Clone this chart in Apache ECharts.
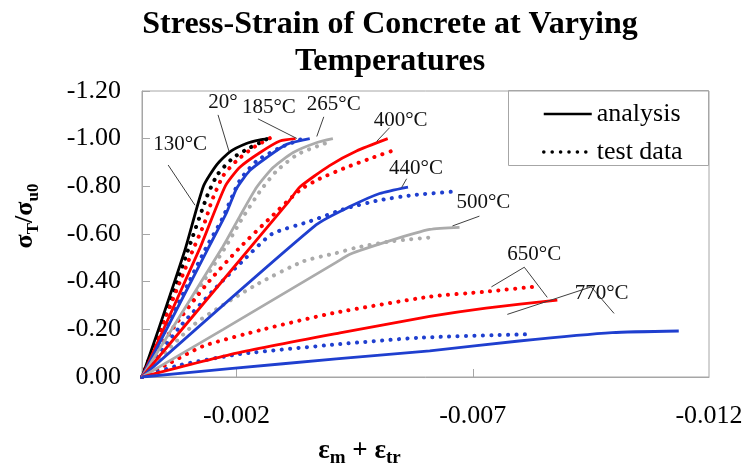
<!DOCTYPE html>
<html>
<head>
<meta charset="utf-8">
<script src="https://cdn.jsdelivr.net/npm/echarts@6/dist/echarts.min.js"></script>
<style>html,body{margin:0;padding:0;background:#fff}#c{width:746px;height:473px}</style>
</head>
<body>
<div id="c"></div>
<script>
// ---- data: [strain, sigma_T/sigma_u0] ----
const analysis20 = [[0,0],[-0.00035,-0.20],[-0.00092,-0.54],[-0.00130,-0.80],[-0.00158,-0.89],[-0.00186,-0.945],[-0.00221,-0.98],[-0.00250,-0.995],[-0.00267,-1.00]];
const test20 = [[0,0],[-0.00040,-0.20],[-0.00097,-0.53],[-0.00138,-0.76],[-0.00160,-0.85],[-0.00193,-0.92],[-0.00228,-0.962],[-0.00257,-0.99],[-0.00274,-1.01]];
const analysis130 = [[0,0],[-0.00123,-0.543],[-0.00176,-0.80],[-0.00207,-0.88],[-0.00250,-0.942],[-0.00292,-0.99],[-0.00325,-1.00]];
const test130 = [[0,0],[-0.00050,-0.25],[-0.00105,-0.52],[-0.00133,-0.65],[-0.00148,-0.74],[-0.00172,-0.845],[-0.00200,-0.907],[-0.00235,-0.962],[-0.00278,-1.01]];
const analysis185 = [[0,0],[-0.00140,-0.54],[-0.00179,-0.69],[-0.00200,-0.79],[-0.00228,-0.866],[-0.00264,-0.921],[-0.00306,-0.976],[-0.00355,-1.00]];
const test185 = [[0,0],[-0.00135,-0.54],[-0.00169,-0.66],[-0.00207,-0.825],[-0.00243,-0.907],[-0.00292,-0.962],[-0.00327,-0.99],[-0.00340,-1.00]];
const analysis265 = [[0,0],[-0.00170,-0.543],[-0.00207,-0.674],[-0.00243,-0.797],[-0.00278,-0.88],[-0.00320,-0.942],[-0.00369,-0.983],[-0.00404,-1.00]];
const test265 = [[0,0],[-0.00175,-0.54],[-0.00212,-0.665],[-0.00250,-0.78],[-0.00285,-0.865],[-0.00330,-0.935],[-0.00380,-0.975],[-0.00395,-0.985]];
const analysis400 = [[0,0],[-0.00310,-0.735],[-0.00334,-0.797],[-0.00397,-0.887],[-0.00454,-0.948],[-0.00520,-1.00]];
const test400 = [[0,0],[-0.00060,-0.19],[-0.00137,-0.39],[-0.00207,-0.543],[-0.00271,-0.667],[-0.00334,-0.784],[-0.00376,-0.832],[-0.00433,-0.88],[-0.00489,-0.921],[-0.00538,-0.955]];
const analysis440 = [[0,0],[-0.00369,-0.639],[-0.00440,-0.715],[-0.00503,-0.770],[-0.00563,-0.797]];
const test440 = [[0,0],[-0.00080,-0.21],[-0.00158,-0.378],[-0.00220,-0.50],[-0.00275,-0.60],[-0.00355,-0.653],[-0.00433,-0.708],[-0.00503,-0.742],[-0.00573,-0.763],[-0.00654,-0.777]];
const analysis500 = [[0,0],[-0.00172,-0.20],[-0.00411,-0.481],[-0.00440,-0.515],[-0.00524,-0.571],[-0.00609,-0.619],[-0.00672,-0.628]];
const test500 = [[0,0],[-0.00110,-0.22],[-0.00240,-0.385],[-0.00341,-0.485],[-0.00411,-0.52],[-0.00454,-0.543],[-0.00530,-0.57],[-0.00619,-0.587]];
const analysis650 = [[0,0],[-0.00200,-0.10],[-0.00419,-0.185],[-0.00609,-0.254],[-0.00728,-0.289],[-0.00879,-0.323]];
const test650 = [[0,0],[-0.00060,-0.06],[-0.00130,-0.13],[-0.00257,-0.20],[-0.00404,-0.268],[-0.00609,-0.337],[-0.00728,-0.358],[-0.00827,-0.378]];
const analysis770 = [[0,0],[-0.00186,-0.035],[-0.00411,-0.076],[-0.00609,-0.110],[-0.00798,-0.151],[-0.00995,-0.186],[-0.01136,-0.193]];
const test770 = [[0,0],[-0.00080,-0.05],[-0.00207,-0.096],[-0.00419,-0.138],[-0.00588,-0.165],[-0.00813,-0.179]];

const temperatures = ['20°','130°C','185°C','265°C','400°C','440°C','500°C','650°C','770°C'];
const analysisSets = [analysis20, analysis130, analysis185, analysis265, analysis400, analysis440, analysis500, analysis650, analysis770];
const testSets = [test20, test130, test185, test265, test400, test440, test500, test650, test770];

const xTickValues = [-0.002, -0.007];
const xLabelValues = [-0.002, -0.007, -0.012];

// annotation anchors (data coordinates)
const labelAnchors = [[-0.001715,-1.153],[-0.000807,-0.974],[-0.002686,-1.131],[-0.004058,-1.143],[-0.005473,-1.077],[-0.0058,-0.873],[-0.007226,-0.731],[-0.008302,-0.516],[-0.009728,-0.351]];
const leaderLines = [
  [[-0.001609,-1.0998],[-0.001841,-0.9472]],
  [[-0.000553,-0.8895],[-0.001123,-0.7204]],
  [[-0.002454,-1.0833],[-0.003277,-1.0008]],
  [[-0.003847,-1.0916],[-0.003699,-1.0091]],
  [[-0.005241,-1.0462],[-0.004966,-0.9885]],
  [[-0.0056,-0.8318],[-0.005494,-0.7947]],
  [[-0.007141,-0.675],[-0.006571,-0.6338]],
  [[-0.008091,-0.4606],[-0.007395,-0.3781]],
  [[-0.008091,-0.4606],[-0.008577,-0.334]],
  [[-0.009506,-0.3781],[-0.007732,-0.2627]],
  [[-0.009506,-0.3781],[-0.009991,-0.2668]]
];

const FONT = '"Liberation Serif","Times New Roman",serif';
const palette = ['#000000','#ff0000','#1f3fcf','#ababab','#ff0000','#1f3fcf','#ababab','#ff0000','#1f3fcf'];
const DOTS = [0.1, 8.3];

const series = [];
analysisSets.forEach((d, i) => {
  series.push({
    name: 'analysis', type: 'line', data: d, symbol: 'none', smooth: 0.2,
    lineStyle: { color: palette[i], width: 2.8, type: 'solid' }, itemStyle: { color: palette[i] }, z: 3
  });
  series.push({
    name: 'test data', type: 'line', data: testSets[i], symbol: 'none', smooth: 0.2,
    lineStyle: { color: palette[i], width: 4, type: DOTS, cap: 'round' }, itemStyle: { color: palette[i] }, z: 2
  });
});
series.push({
  name: 'annotations', type: 'line', data: [], symbol: 'none', silent: true,
  markLine: {
    silent: true, symbol: 'none', animation: false,
    lineStyle: { color: '#404040', width: 1, type: 'solid' },
    label: { show: false },
    data: leaderLines.map(l => [{ coord: l[0] }, { coord: l[1] }])
  },
  markPoint: {
    silent: true, symbol: 'circle', symbolSize: 0, animation: false,
    label: { show: true, position: 'inside', formatter: '{b}', color: '#111', fontFamily: FONT, fontSize: 21 },
    data: temperatures.map((t, i) => ({ name: t, coord: labelAnchors[i] }))
  }
});

const chart = echarts.init(document.getElementById('c'), null, { renderer: 'canvas' });
chart.setOption({
  animation: false,
  backgroundColor: '#fff',
  title: {
    text: 'Stress-Strain of Concrete at Varying\nTemperatures',
    left: 390, top: 6, textAlign: 'center', padding: 0,
    textStyle: { fontFamily: FONT, fontWeight: 'bold', fontSize: 32, lineHeight: 37, color: '#000' }
  },
  grid: { left: 142, right: 37, top: 91, bottom: 91, show: true, borderColor: '#a6a6a6', borderWidth: 1, backgroundColor: 'transparent' },
  legend: {
    data: [
      { name: 'analysis', lineStyle: { width: 2.6, color: '#000', type: 'solid' } },
      { name: 'test data', lineStyle: { width: 3.5, color: '#000', type: DOTS, cap: 'round' } }
    ],
    orient: 'vertical', left: 537, top: 96,
    itemWidth: 48, itemHeight: 20, itemGap: 12, selectedMode: false,
    itemStyle: { opacity: 0 },
    textStyle: { fontFamily: FONT, fontSize: 26, color: '#000' }
  },
  graphic: [{
    type: 'rect', left: 508, top: 90, silent: true,
    shape: { width: 200, height: 75 },
    style: { fill: 'transparent', stroke: '#a6a6a6', lineWidth: 1 }
  }],
  xAxis: {
    type: 'value', min: -0.012, max: 0, inverse: true,
    name: '{e|ε}{s|m}{e| + ε}{s|tr}', nameLocation: 'middle', nameGap: 57,
    nameTextStyle: {
      padding: [0, 132, 0, 0],
      rich: {
        e: { fontFamily: FONT, fontWeight: 'bold', fontSize: 27, lineHeight: 34, verticalAlign: 'middle', color: '#000' },
        s: { fontFamily: FONT, fontWeight: 'bold', fontSize: 19, lineHeight: 18, verticalAlign: 'bottom', color: '#000' }
      }
    },
    axisLine: { show: true, lineStyle: { color: '#a6a6a6' } },
    axisTick: { show: true, inside: true, length: 8, customValues: xTickValues, lineStyle: { color: '#a6a6a6' } },
    axisLabel: { customValues: xLabelValues, margin: 26, fontFamily: FONT, fontSize: 26, color: '#000', formatter: v => v.toFixed(3) },
    splitLine: { show: false }
  },
  yAxis: {
    type: 'value', min: -1.2, max: 0, interval: 0.2, inverse: true,
    name: '{e|σ}{s|T}{e|/σ}{s|u0}', nameLocation: 'middle', nameRotate: 90, nameGap: 100,
    nameTextStyle: {
      padding: [0, 0, 0, 36],
      rich: {
        e: { fontFamily: FONT, fontWeight: 'bold', fontSize: 26, lineHeight: 34, verticalAlign: 'middle', color: '#000' },
        s: { fontFamily: FONT, fontWeight: 'bold', fontSize: 17, lineHeight: 18, verticalAlign: 'bottom', color: '#000' }
      }
    },
    axisLine: { show: true, lineStyle: { color: '#a6a6a6' } },
    axisTick: { show: true, inside: true, length: 8, lineStyle: { color: '#a6a6a6' } },
    axisLabel: { margin: 21, fontFamily: FONT, fontSize: 26, color: '#000', formatter: v => (Math.abs(v) < 1e-9 ? '0.00' : v.toFixed(2)) },
    splitLine: { show: false }
  },
  series: series
});
</script>
</body>
</html>
